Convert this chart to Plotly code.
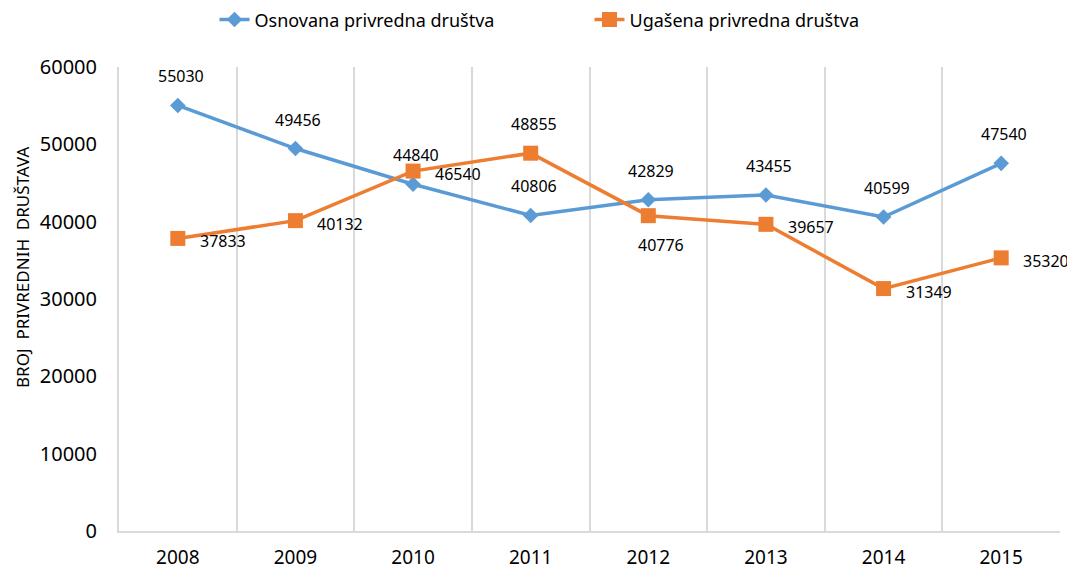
import plotly.graph_objects as go

years = ["2008", "2009", "2010", "2011", "2012", "2013", "2014", "2015"]
osnovana = [55030, 49456, 44840, 40806, 42829, 43455, 40599, 47540]
ugasena = [37833, 40132, 46540, 48855, 40776, 39657, 31349, 35320]

# label placement per point: "top", "right", "bottom"
osn_pos = ["top"] * 8
ug_pos = ["right", "right", "right", "top", "bottom", "right", "right", "right"]

FONT = "Noto Sans"
BLUE = "#5B9BD5"
ORANGE = "#ED7D31"
GRID = "#D9D9D9"

fig = go.Figure()
fig.add_trace(go.Scatter(
    x=years, y=osnovana, name="Osnovana privredna društva",
    mode="lines+markers",
    line=dict(color=BLUE, width=3.5),
    marker=dict(symbol="diamond", size=12, color=BLUE),
    cliponaxis=False,
))
fig.add_trace(go.Scatter(
    x=years, y=ugasena, name="Ugašena privredna društva",
    mode="lines+markers",
    line=dict(color=ORANGE, width=3.5),
    marker=dict(symbol="square", size=15, color=ORANGE),
    cliponaxis=False,
))


def label_args(pos):
    if pos == "top":
        return dict(xanchor="center", yanchor="middle", xshift=3, yshift=29)
    if pos == "bottom":
        return dict(xanchor="center", yanchor="middle", xshift=13, yshift=-29)
    return dict(xanchor="left", yanchor="middle", xshift=20, yshift=-3)


annotations = []
for series, positions in ((osnovana, osn_pos), (ugasena, ug_pos)):
    for idx, (val, pos) in enumerate(zip(series, positions)):
        annotations.append(dict(
            x=idx, y=val, xref="x", yref="y", text=str(val), showarrow=False,
            font=dict(family=FONT, size=16, color="#000000"), **label_args(pos)))

annotations.append(dict(
    text="BROJ  PRIVREDNIH  DRUŠTAVA", xref="paper", yref="paper",
    x=-0.102, y=0.567, xanchor="center", yanchor="middle", textangle=-90,
    showarrow=False, font=dict(family=FONT, size=17, color="#000000")))

# page body has an 8px default margin, so the figure is sized to fit the window
fig.update_layout(
    width=1067, height=561,
    paper_bgcolor="white", plot_bgcolor="white",
    margin=dict(l=111, r=15, t=59, b=38, autoexpand=False),
    font=dict(family=FONT, size=17, color="#000000"),
    legend=dict(orientation="h", x=0.5, xanchor="center", y=0.979, yanchor="middle",
                yref="container", font=dict(size=18, family=FONT),
                entrywidth=330, entrywidthmode="pixels"),
    annotations=annotations,
    xaxis=dict(type="category", tickson="boundaries", showgrid=True,
               gridcolor=GRID, gridwidth=2, automargin=False,
               showline=True, linecolor=GRID, linewidth=2,
               ticks="", ticklabelstandoff=8,
               tickfont=dict(size=19), range=[-0.5, 7.5]),
    yaxis=dict(range=[0, 60000], dtick=10000, tickformat="d", showgrid=False,
               showline=True, linecolor=GRID, linewidth=2, automargin=False,
               ticks="", ticklabelstandoff=16, zeroline=False,
               tickfont=dict(size=20)),
)

fig.write_html("out.html")
